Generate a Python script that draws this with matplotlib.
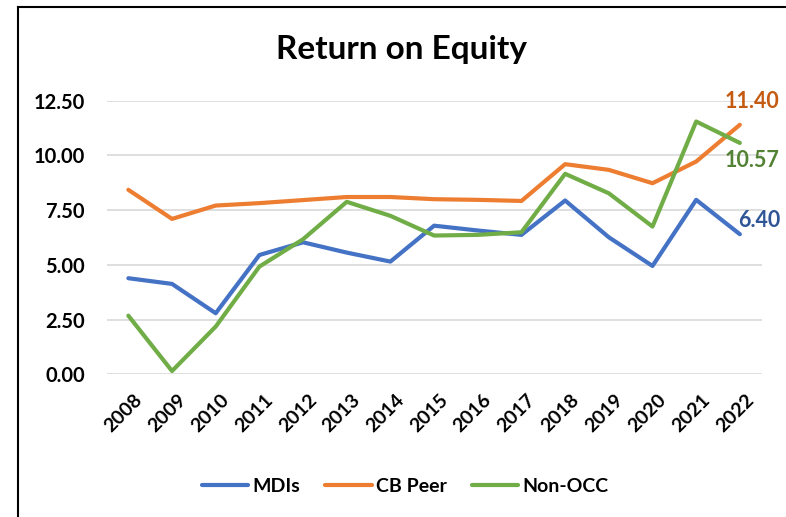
import matplotlib
matplotlib.use("Agg")
import matplotlib.pyplot as plt
import matplotlib.transforms as mtransforms
from matplotlib.lines import Line2D

years = [str(y) for y in range(2008, 2023)]
mdis = [4.39, 4.13, 2.79, 5.45, 6.03, 5.56, 5.15, 6.79, 6.57, 6.37, 7.94, 6.26, 4.95, 7.97, 6.40]
cb_peer = [8.43, 7.10, 7.71, 7.82, 7.96, 8.10, 8.10, 8.00, 7.97, 7.92, 9.60, 9.34, 8.73, 9.72, 11.40]
non_occ = [2.68, 0.15, 2.18, 4.92, 6.17, 7.88, 7.24, 6.34, 6.37, 6.49, 9.16, 8.27, 6.75, 11.55, 10.57]
yticks = [0, 2.5, 5, 7.5, 10, 12.5]

plt.rcParams['font.family'] = ['Lato', 'DejaVu Sans']
plt.rcParams['font.weight'] = 'bold'

W, H = 786, 517
fig = plt.figure(figsize=(W/100, H/100), dpi=100)
ax = fig.add_axes([106.5/W, 1-374.3/H, (761.7-106.5)/W, (374.3-100.7)/H])

x = list(range(len(years)))
c_blue, c_orange, c_green = '#4472C4', '#ED7D31', '#70AD47'
ax.plot(x, mdis, color=c_blue, lw=3, label='MDIs', solid_capstyle='round', solid_joinstyle='round', zorder=3)
ax.plot(x, cb_peer, color=c_orange, lw=3, label='CB Peer', solid_capstyle='round', solid_joinstyle='round', zorder=3)
ax.plot(x, non_occ, color=c_green, lw=3, label='Non-OCC', solid_capstyle='round', solid_joinstyle='round', zorder=3)

ax.set_xlim(-0.5, len(years)-0.5)
ax.set_ylim(0, 12.5)
ax.set_yticks(yticks)
ax.set_yticklabels([f"{v:.2f}" for v in yticks], fontsize=14.5, fontweight='bold')
ax.set_xticks(x)
ax.set_xticklabels(years, rotation=45, ha='right', va='top', rotation_mode='anchor', fontsize=14, fontweight='bold')
ax.tick_params(axis='both', length=0)
ax.tick_params(axis='y', pad=15.5)
ax.tick_params(axis='x', pad=12)
offset = mtransforms.ScaledTranslation(5/100, 0, fig.dpi_scale_trans)
for lbl in ax.get_xticklabels():
    lbl.set_transform(lbl.get_transform() + offset)
ax.grid(axis='y', color='#D9D9D9', lw=1.2)
ax.set_axisbelow(True)
for s in ax.spines.values():
    s.set_visible(False)

ax.annotate(f"{cb_peer[-1]:.2f}", (x[-1], cb_peer[-1]), xytext=(8.6, 16.5), textcoords='offset points',
            ha='center', va='center', color='#C55A11', fontsize=15.5, fontweight='bold', annotation_clip=False)
ax.annotate(f"{non_occ[-1]:.2f}", (x[-1], non_occ[-1]), xytext=(8.6, -12.3), textcoords='offset points',
            ha='center', va='center', color='#548235', fontsize=15.5, fontweight='bold', annotation_clip=False)
ax.annotate(f"{mdis[-1]:.2f}", (x[-1], mdis[-1]), xytext=(13.7, 10), textcoords='offset points',
            ha='center', va='center', color='#2F5597', fontsize=15.5, fontweight='bold', annotation_clip=False)

fig.text(402/W, 1-50/H, 'Return on Equity', ha='center', va='center', fontsize=24, fontweight='bold')

leg = fig.legend(loc='center', bbox_to_anchor=(405/W, 1-486/H), ncol=3, frameon=False,
                 fontsize=14, handlelength=2.4, columnspacing=1.3, handletextpad=0.2)
for t in leg.get_texts():
    t.set_fontweight('bold')

fig.add_artist(Line2D([17.5/W, 17.5/W], [0, 1-7/H], color='black', lw=1.5, transform=fig.transFigure))
fig.add_artist(Line2D([17.5/W, 1], [1-7/H, 1-7/H], color='black', lw=1.5, transform=fig.transFigure))

fig.savefig('out.png', dpi=100)
